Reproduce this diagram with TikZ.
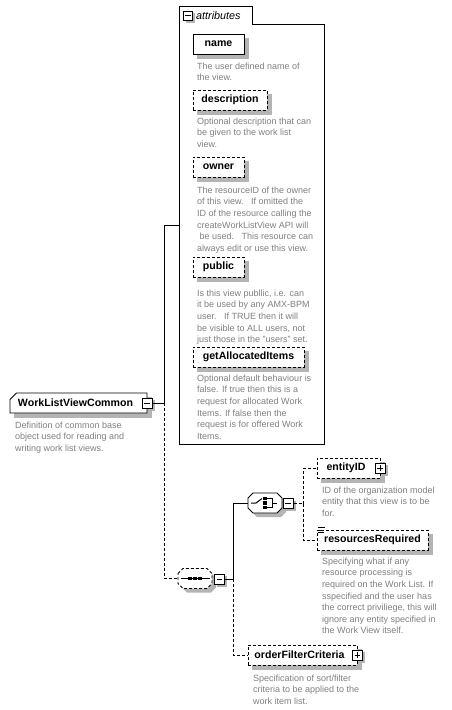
\documentclass[tikz,border=0pt]{standalone}
\usepackage{fontspec}
\setmainfont{Liberation Sans}
\usetikzlibrary{shapes.misc}
\definecolor{descgray}{RGB}{128,128,128}
\definecolor{shadowgray}{RGB}{180,180,180}
\tikzset{
  lbl/.style={font=\fontsize{10.6}{12}\selectfont\bfseries},
  dsc/.style={anchor=north west, align=left, inner sep=0pt, text=descgray, font=\fontsize{9}{11.6}\selectfont},
  elem/.style={rectangle, draw, line width=0.9pt, fill=white, inner sep=0pt, minimum height=20pt, lbl},
  optel/.style={elem, dash pattern=on 3pt off 2pt},
  pmbox/.style={rectangle, draw, line width=1pt, fill=white, minimum size=9pt, inner sep=0pt},
  minusbox/.style={pmbox, path picture={\draw[line width=0.9pt] ([xshift=-2.8pt]path picture bounding box.center) -- ([xshift=2.8pt]path picture bounding box.center);}},
  plusbox/.style={pmbox, path picture={\draw[line width=0.9pt] ([xshift=-2.8pt]path picture bounding box.center) -- ([xshift=2.8pt]path picture bounding box.center) ([yshift=-2.8pt]path picture bounding box.center) -- ([yshift=2.8pt]path picture bounding box.center);}},
  octanode/.style={rectangle, inner sep=0pt, minimum width=34pt, minimum height=20pt},
  conn/.style={line width=0.9pt},
  oconn/.style={conn, dash pattern=on 3pt off 2pt},
  octline/.style={line width=0.9pt, fill=white},
  shadowfill/.style={fill=shadowgray, draw=none},
}
\newcommand{\octshape}[1]{(-17,-5) -- (-12,-10) -- (12,-10) -- (17,-5) -- (17,5) -- (12,10) -- (-12,10) -- (-17,5) -- cycle}
\begin{document}
\begin{tikzpicture}[x=1pt,y=-1pt]
\useasboundingbox (0,0) rectangle (452,710);
\fill[white] (0,0) rectangle (452,710);

% shadows
\fill[shadowfill] (197,38) rectangle (249,59);
\fill[shadowfill] (197,94) rectangle (272,115);
\fill[shadowfill] (197,161) rectangle (249,182);
\fill[shadowfill] (197,261) rectangle (249,282);
\fill[shadowfill] (197,351) rectangle (309,372);
\fill[shadowfill] (14,397) rectangle (152,418);
\fill[shadowfill] (321,462) rectangle (385,483);
\fill[shadowfill] (321,534) rectangle (433,555);
\fill[shadowfill] (252,649) rectangle (362,670);
\fill[shadowfill] (185.5,13) rectangle (195,22.5);
\fill[shadowfill] (144,400) rectangle (154.5,410.5);
\fill[shadowfill] (216.5,576) rectangle (227,586.5);
\fill[shadowfill] (285,500.5) rectangle (295.5,511);
\fill[shadowfill] (377,465) rectangle (387.5,475.5);
\fill[shadowfill] (354.5,652) rectangle (365,662.5);

% attributes group
\draw[line width=0.9pt] (179,444) -- (179,6) -- (252,6) -- (252,24) -- (324,24) -- (324,444) -- cycle;
\node[minusbox] (attrm) at (188,15.5) {};
\node[anchor=west, inner sep=0pt, font=\fontsize{10.8}{12}\selectfont\itshape] (attrlbl) at (196,15.5) {attributes};
\coordinate (attrin) at (179,225);

% attribute elements
\node[elem, minimum width=51pt] (name) at (218.5,44) {name};
\node[dsc] (named) at (197,60.9) {\strut The user defined name of\\the view.};

\node[optel, minimum width=74pt] (descr) at (230,100) {description};
\node[dsc] (descrd) at (197,115.9) {\strut Optional description that can\\be given to the work list\\view.};

\node[optel, minimum width=51pt] (owner) at (218.5,167) {owner};
\node[dsc] (ownerd) at (197,184.9) {\strut The resourceID of the owner\\of this view.\ \ \ If omitted the\\ID of the resource calling the\\createWorkListView API will\\\hspace*{2.5pt}be used.\ \ \ This resource can\\always edit or use this view.};

\node[optel, minimum width=51pt] (public) at (218.5,267) {public};
\node[dsc] (publicd) at (197,287.9) {\strut Is this view publlic, i.e. can\\it be used by any AMX-BPM\\user.\ \ \ If TRUE then it will\\be visible to ALL users, not\\just those in the "users" set.};

\node[optel, minimum width=111pt] (gai) at (248.5,357) {getAllocatedItems};
\node[dsc] (gaid) at (197,372.9) {\strut Optional default behaviour is\\false. If true then this is a\\request for allocated Work\\Items. If false then the\\request is for offered Work\\Items.};

% root complex type
\node[elem, chamfered rectangle, chamfered rectangle corners=north west, chamfered rectangle xsep=3pt, minimum width=137pt, minimum height=20pt] (wlvc) at (78.5,403) {\hspace*{-6pt}WorkListViewCommon};
\node[minusbox, minimum size=10pt] (wlvcm) at (147,403) {};
\node[dsc] (wlvcd) at (15,419.9) {\strut Definition of common base\\object used for reading and\\writing work list views.};

% sequence
\node[octanode] (seq) at (195,578.5) {};
\begin{scope}[shift={(seq.center)}]
  \fill[shadowgray, shift={(4,4)}] \octshape{};
  \draw[octline, dash pattern=on 3pt off 2pt] \octshape{};
  \draw[line width=0.9pt] (-14,0) -- (15,0);
  \foreach \xx in {-5,0,5} \fill (\xx-1.7,-1.7) rectangle (\xx+1.7,1.7);
\end{scope}
\node[minusbox, minimum size=10pt] (seqm) at (219.5,579) {};

% choice
\node[octanode] (choice) at (265,503) {};
\begin{scope}[shift={(choice.center)}]
  \fill[shadowgray, shift={(4,4)}] \octshape{};
  \draw[octline] \octshape{};
  \draw[line width=1pt] (-14,0) -- (-9,0) -- (-3,-4.5);
  \foreach \yy in {-4.5,0,4.5} \fill (-1.6,\yy-1.6) rectangle (1.6,\yy+1.6);
  \draw[line width=1pt] (0,-4.5) -- (7,-4.5) -- (7,4.5) -- (0,4.5) (7,0) -- (12,0);
\end{scope}
\node[minusbox, minimum size=10pt] (choicem) at (288,503.5) {};

% choice children
\node[optel, minimum width=63pt] (eid) at (348.5,468) {\hspace*{-5pt}entityID};
\node[plusbox, minimum size=10pt] (eidp) at (380,468) {};
\node[dsc] (eidd) at (322,484.9) {\strut ID of the organization model\\entity that this view is to be\\for.};

\node[optel, minimum width=111pt] (rr) at (372.5,540) {resourcesRequired};
\draw[line width=0.8pt] (318,527.5) -- (325,527.5) (318,530) -- (324,530) (318,532.5) -- (324,532.5);
\node[dsc] (rrd) at (322,555.9) {\strut Specifying what if any\\resource processing is\\required on the Work List. If\\sspecified and the user has\\the correct priviliege, this will\\ignore any entity specified in\\the Work View itself.};

% sequence second child
\node[optel, minimum width=109pt] (ofc) at (302.5,655) {\hspace*{-6pt}orderFilterCriteria};
\node[plusbox, minimum size=10pt] (ofcp) at (357.5,655) {};
\node[dsc] (ofcd) at (253,672.9) {\strut Specification of sort/filter\\criteria to be applied to the\\work item list.};

% connectors
\coordinate (jA) at (164,403);
\coordinate (jB) at (233,579);
\coordinate (jC) at (303,503.5);
\draw[conn] (wlvcm.east) -- (jA) |- (attrin);
\draw[oconn] (jA) |- (seq.west);
\draw[conn] (seqm.east) -- (jB) |- (choice.west);
\draw[oconn] (jB) |- (ofc.west);
\draw[oconn] (choicem.east) -- (jC);
\draw[oconn] (jC) |- (eid.west);
\draw[oconn] (jC) |- (rr.west);
\end{tikzpicture}
\end{document}
